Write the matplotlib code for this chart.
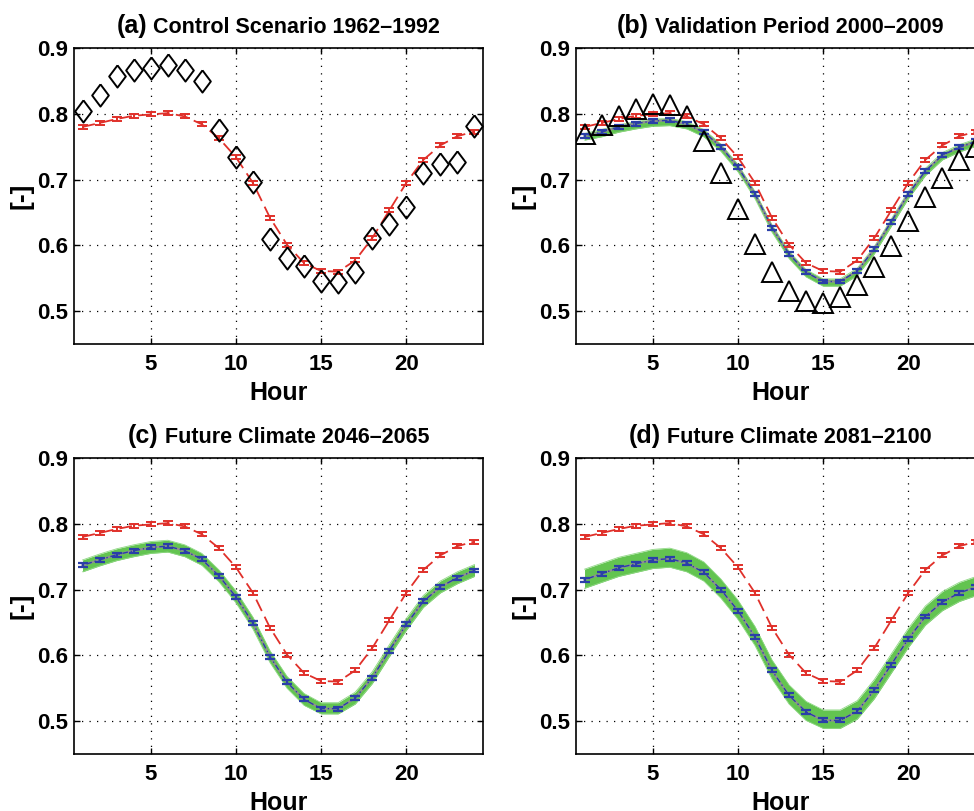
"""Diurnal cycle panels: control, validation and two future climate periods."""

import matplotlib
matplotlib.use("Agg")
import matplotlib.pyplot as plt

plt.rcParams["font.family"] = ["Liberation Sans", "DejaVu Sans"]
plt.rcParams["font.weight"] = "bold"

hours = list(range(1, 25))

# control scenario simulation (red dashed, same in every panel)
red_ctrl = [0.780, 0.786, 0.792, 0.797, 0.799, 0.801, 0.796, 0.784, 0.763, 0.734, 0.695, 0.642,
            0.601, 0.573, 0.561, 0.560, 0.577, 0.611, 0.653, 0.695, 0.730, 0.752, 0.766, 0.773]
red_err = 0.003

# observations
obs_ctrl = [0.804, 0.829, 0.858, 0.866, 0.870, 0.874, 0.866, 0.850, 0.776, 0.734, 0.697, 0.609,
            0.581, 0.568, 0.546, 0.544, 0.560, 0.611, 0.633, 0.659, 0.710, 0.723, 0.726, 0.781]
obs_valid = [0.769, 0.783, 0.796, 0.807, 0.815, 0.814, 0.796, 0.758, 0.710, 0.655, 0.602, 0.559,
             0.531, 0.516, 0.512, 0.521, 0.540, 0.567, 0.599, 0.637, 0.673, 0.703, 0.730, 0.750]

# ensemble mean (blue) and ensemble envelope (green)
blue_b = [0.766, 0.772, 0.780, 0.785, 0.789, 0.790, 0.784, 0.772, 0.750, 0.719, 0.678, 0.627,
          0.587, 0.559, 0.545, 0.545, 0.561, 0.594, 0.636, 0.678, 0.713, 0.737, 0.749, 0.758]
lower_b = [0.760, 0.765, 0.772, 0.777, 0.781, 0.782, 0.777, 0.765, 0.743, 0.712, 0.671, 0.620,
           0.580, 0.552, 0.538, 0.538, 0.554, 0.587, 0.629, 0.671, 0.706, 0.730, 0.742, 0.751]
upper_b = [0.770, 0.776, 0.783, 0.788, 0.792, 0.793, 0.788, 0.776, 0.754, 0.723, 0.682, 0.631,
           0.591, 0.563, 0.549, 0.549, 0.565, 0.598, 0.640, 0.682, 0.717, 0.741, 0.753, 0.762]

blue_c = [0.737, 0.745, 0.753, 0.759, 0.764, 0.766, 0.759, 0.746, 0.721, 0.689, 0.649, 0.598,
          0.559, 0.533, 0.519, 0.519, 0.535, 0.566, 0.607, 0.647, 0.682, 0.704, 0.718, 0.729]
lower_c = [0.727, 0.736, 0.744, 0.750, 0.755, 0.757, 0.750, 0.737, 0.712, 0.680, 0.640, 0.589,
           0.550, 0.524, 0.511, 0.511, 0.526, 0.557, 0.598, 0.638, 0.673, 0.695, 0.709, 0.720]
upper_c = [0.745, 0.754, 0.762, 0.768, 0.773, 0.775, 0.768, 0.755, 0.730, 0.698, 0.658, 0.607,
           0.568, 0.542, 0.528, 0.528, 0.544, 0.575, 0.616, 0.656, 0.691, 0.713, 0.727, 0.738]

blue_d = [0.715, 0.724, 0.733, 0.739, 0.745, 0.747, 0.740, 0.726, 0.700, 0.668, 0.628, 0.577,
          0.539, 0.514, 0.501, 0.501, 0.515, 0.547, 0.586, 0.625, 0.659, 0.681, 0.695, 0.704]
lower_d = [0.702, 0.711, 0.720, 0.726, 0.732, 0.734, 0.727, 0.713, 0.687, 0.655, 0.615, 0.564,
           0.526, 0.501, 0.489, 0.489, 0.503, 0.534, 0.573, 0.612, 0.646, 0.668, 0.682, 0.691]
upper_d = [0.731, 0.740, 0.749, 0.755, 0.761, 0.763, 0.756, 0.742, 0.716, 0.684, 0.644, 0.593,
           0.555, 0.530, 0.517, 0.517, 0.531, 0.563, 0.602, 0.641, 0.675, 0.697, 0.711, 0.720]
blue_err = 0.003

RED = "#e0302a"
BLUE = "#2a3fa8"
GREEN = "#63c450"
DIAMOND = [(0, 1), (0.75, 0), (0, -1), (-0.75, 0), (0, 1)]


def draw_panel(ax, tag, title, obs=None, marker=None, mean=None, lower=None, upper=None):
    ax.set_xlim(0.5, 24.5)
    ax.set_ylim(0.45, 0.9)
    ax.set_xticks([5, 10, 15, 20])
    ax.set_yticks([0.5, 0.6, 0.7, 0.8, 0.9])
    ax.set_yticklabels(["0.5", "0.6", "0.7", "0.8", "0.9"])
    ax.grid(True, color="black", linestyle=(0, (1, 5)), linewidth=0.9)
    ax.set_axisbelow(True)
    ax.tick_params(direction="in", length=4, width=1, top=True, right=True, labelsize=16)
    ax.tick_params(axis="x", pad=7)
    ax.tick_params(axis="y", pad=4)
    for spine in ax.spines.values():
        spine.set_linewidth(1.2)
    ax.set_xlabel("Hour", fontsize=18, fontweight="bold")
    ax.set_ylabel("[-]", fontsize=19, fontweight="bold")
    ax.xaxis.set_label_coords(0.5, -0.125)
    ax.yaxis.set_label_coords(-0.10, 0.5)

    if mean is not None:
        ax.fill_between(hours, lower, upper, color=GREEN, linewidth=0, zorder=2)
        ax.plot(hours, lower, color="#8fd884", linewidth=0.6, zorder=2)
        ax.plot(hours, upper, color="#8fd884", linewidth=0.6, zorder=2)
        ax.plot(hours, mean, color="#909090", linewidth=1.6, zorder=3)
        ax.errorbar(hours, mean, yerr=blue_err, color=BLUE, linestyle=(0, (1, 2, 4, 2)),
                    linewidth=1.0, capsize=3.5, capthick=1.6, elinewidth=1.6, zorder=4)
    ax.errorbar(hours, red_ctrl, yerr=red_err, color=RED, linestyle=(0, (7, 3.5)),
                linewidth=1.3, capsize=3.5, capthick=1.4, elinewidth=1.4, zorder=5)
    if obs is not None:
        ax.plot(hours, obs, linestyle="none", marker=marker, markersize=16 if marker is DIAMOND else 14,
                markerfacecolor="none", markeredgecolor="black", markeredgewidth=1.4, zorder=6)

    t1 = ax.text(0.5, 1.05, tag, transform=ax.transAxes, fontsize=18, fontweight="bold",
                 ha="right", va="baseline")
    t2 = ax.annotate(" " + title, xy=(1, 0), xycoords=t1, fontsize=15.5, fontweight="bold",
                     ha="left", va="bottom")
    # centre the two-part title over the axes
    fig = ax.figure
    fig.canvas.draw()
    r = fig.canvas.get_renderer()
    w1 = t1.get_window_extent(r).width
    w2 = t2.get_window_extent(r).width
    shift = (w1 - (w1 + w2) / 2) / ax.get_window_extent(r).width
    t1.set_x(0.5 + shift)


fig = plt.figure(figsize=(9.74, 8.11), dpi=100)
w, h = 409 / 974, 296 / 811
ax_a = fig.add_axes([74 / 974, 467 / 811, w, h])
ax_b = fig.add_axes([576 / 974, 467 / 811, w, h])
ax_c = fig.add_axes([74 / 974, 57 / 811, w, h])
ax_d = fig.add_axes([576 / 974, 57 / 811, w, h])

draw_panel(ax_a, "(a)", "Control Scenario 1962–1992", obs=obs_ctrl, marker=DIAMOND)
draw_panel(ax_b, "(b)", "Validation Period 2000–2009", obs=obs_valid, marker="^",
           mean=blue_b, lower=lower_b, upper=upper_b)
draw_panel(ax_c, "(c)", "Future Climate 2046–2065", mean=blue_c, lower=lower_c, upper=upper_c)
draw_panel(ax_d, "(d)", "Future Climate 2081–2100", mean=blue_d, lower=lower_d, upper=upper_d)

fig.savefig("out.png", dpi=100, facecolor="white")
